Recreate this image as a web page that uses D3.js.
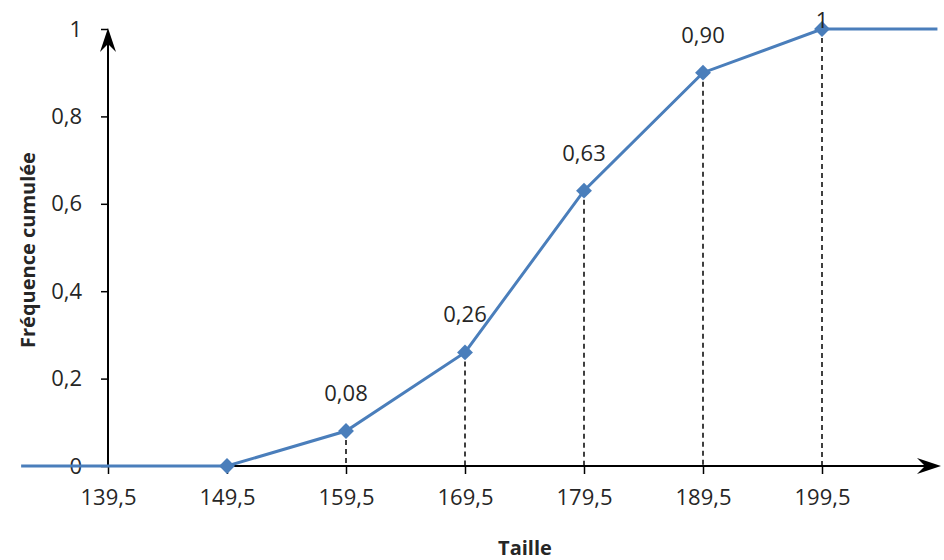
<!DOCTYPE html>
<html><head><meta charset="utf-8">
<script src="https://cdn.jsdelivr.net/npm/d3@7"></script>
<style>body{margin:0;background:#fff}text{font-family:"Open Sans",sans-serif}</style>
</head><body><svg id="c" width="944" height="560"></svg>
<script>
const xTicks = [139.5, 149.5, 159.5, 169.5, 179.5, 189.5, 199.5];
const xTickLabels = ["139,5", "149,5", "159,5", "169,5", "179,5", "189,5", "199,5"];
const yTicks = [0, 0.2, 0.4, 0.6, 0.8, 1];
const yTickLabels = ["0", "0,2", "0,4", "0,6", "0,8", "1"];
const pointX = [149.5, 159.5, 169.5, 179.5, 189.5, 199.5];
const pointY = [0, 0.08, 0.26, 0.63, 0.90, 1];
const pointLabels = ["", "0,08", "0,26", "0,63", "0,90", "1"];
const lineX = [132.2, 149.5, 159.5, 169.5, 179.5, 189.5, 199.5, 209.2];
const lineY = [0, 0, 0.08, 0.26, 0.63, 0.90, 1, 1];

const svg = d3.select("#c");
const x = d3.scaleLinear().domain([139.5, 199.5]).range([108, 822]);
const y = d3.scaleLinear().domain([0, 1]).range([466, 29]);
const blue = "#4a7ebb";
const txt = "#262626";
const fs = 22;

// axes lines
svg.append("line").attr("x1", x(139.5)).attr("x2", 935).attr("y1", y(0)).attr("y2", y(0)).attr("stroke", "#000").attr("stroke-width", 2);
svg.append("line").attr("x1", x(139.5)).attr("x2", x(139.5)).attr("y1", y(0)).attr("y2", 36).attr("stroke", "#000").attr("stroke-width", 2);
// arrowheads
svg.append("path").attr("d", `M${x(139.5)},28 L${x(139.5)-8},52 L${x(139.5)},44 L${x(139.5)+8},52 Z`).attr("fill", "#000");
svg.append("path").attr("d", `M941,${y(0)} L917,${y(0)-8} L925,${y(0)} L917,${y(0)+8} Z`).attr("fill", "#000");

// ticks
const xAxis = d3.axisBottom(x).tickValues(xTicks).tickFormat((d, i) => xTickLabels[i]).tickSize(8).tickSizeOuter(0).tickPadding(15);
const gx = svg.append("g").attr("transform", `translate(0,${y(0)})`).call(xAxis);
gx.select(".domain").remove();
gx.selectAll("line").attr("stroke", "#000").attr("stroke-width", 1.5);
gx.selectAll("text").attr("font-size", fs).attr("fill", txt).attr("font-family", "Open Sans");

const yAxis = d3.axisLeft(y).tickValues(yTicks).tickFormat((d, i) => yTickLabels[i]).tickSize(7).tickSizeOuter(0).tickPadding(19);
const gy = svg.append("g").attr("transform", `translate(${x(139.5)},0)`).call(yAxis);
gy.select(".domain").remove();
gy.selectAll("line").attr("stroke", "#000").attr("stroke-width", 1.5);
gy.selectAll("text").attr("font-size", fs).attr("fill", txt).attr("font-family", "Open Sans");

// dashed drop lines
pointX.forEach((px, i) => {
  if (pointY[i] > 0) {
    svg.append("line").attr("x1", x(px)).attr("x2", x(px)).attr("y1", y(pointY[i])).attr("y2", y(0))
      .attr("stroke", "#000").attr("stroke-width", 1.5).attr("stroke-dasharray", "5,4");
  }
});

// line
const lineData = lineX.map((v, i) => [v, lineY[i]]);
svg.append("path").datum(lineData).attr("fill", "none").attr("stroke", blue).attr("stroke-width", 3)
  .attr("d", d3.line().x(d => x(d[0])).y(d => y(d[1])));

// markers
pointX.forEach((px, i) => {
  svg.append("path").attr("d", d3.symbol().type(d3.symbolDiamond2).size(160)())
    .attr("transform", `translate(${x(px)},${y(pointY[i])})`).attr("fill", blue);
});
pointX.forEach((px, i) => {
  if (pointLabels[i]) {
    svg.append("text").attr("x", x(px)).attr("y", Math.max(y(pointY[i]) - 30, 28)).attr("text-anchor", "middle")
      .attr("font-size", fs).attr("fill", txt).text(pointLabels[i]);
  }
});

// axis titles
svg.append("text").attr("transform", "translate(35,250) rotate(-90)").attr("text-anchor", "middle")
  .attr("font-size", 20).attr("font-weight", "bold").attr("fill", txt).text("Fréquence cumulée");
svg.append("text").attr("x", 525).attr("y", 555).attr("text-anchor", "middle")
  .attr("font-size", 20).attr("font-weight", "bold").attr("fill", txt).text("Taille");
</script></body></html>
